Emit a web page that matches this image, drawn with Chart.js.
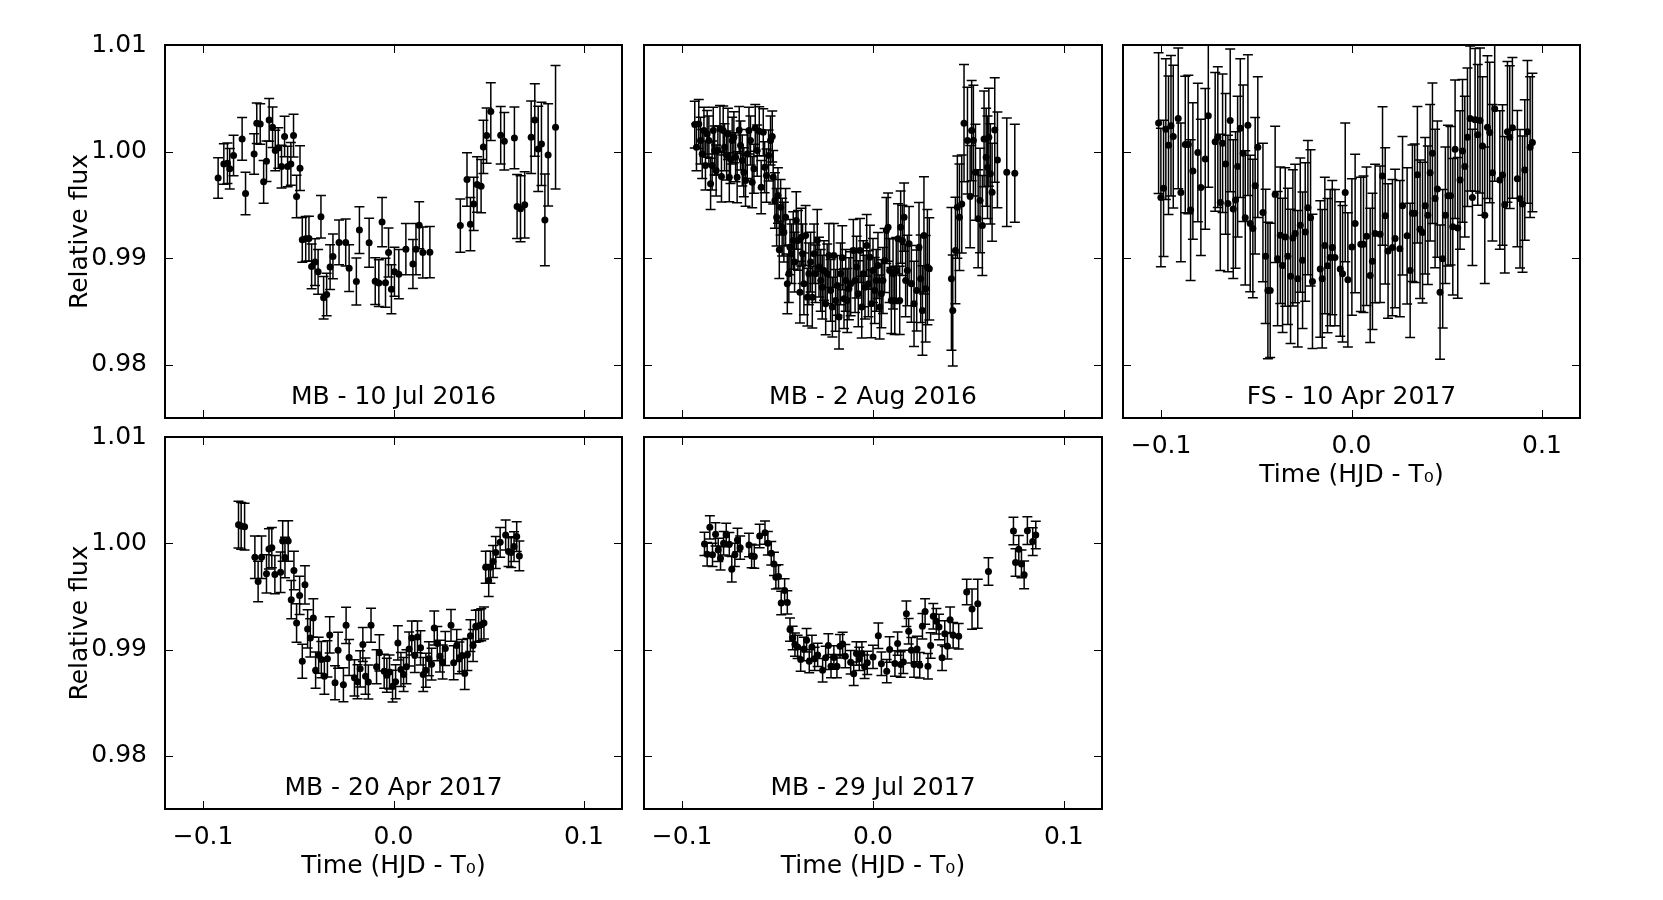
<!DOCTYPE html>
<html>
<head>
<meta charset="utf-8">
<script src="https://cdn.jsdelivr.net/npm/chart.js@4.4.1/dist/chart.umd.min.js"></script>
<style>
  html, body { margin: 0; padding: 0; background: #fff; overflow: hidden; }
  canvas { position: absolute; }
</style>
</head>
<body>
<script>
// MB - 10 Jul 2016
const jul16Time = [-0.0921,-0.0891,-0.0872,-0.0860,-0.0840,-0.0795,-0.0777,-0.0732,-0.0718,-0.0700,
  -0.0682,-0.0667,-0.0653,-0.0635,-0.0621,-0.0605,-0.0588,-0.0572,-0.0556,-0.0539,
  -0.0525,-0.0509,-0.0491,-0.0479,-0.0461,-0.0444,-0.0430,-0.0412,-0.0396,-0.0381,
  -0.0367,-0.0351,-0.0333,-0.0318,-0.0286,-0.0251,-0.0233,-0.0195,-0.0179,-0.0128,
  -0.0096,-0.0077,-0.0060,-0.0042,-0.0026,-0.0011,0.0005,0.0028,0.0065,0.0102,
  0.0118,0.0135,0.0154,0.0191,0.0351,0.0386,0.0404,0.0421,0.0439,0.0460,
  0.0472,0.0489,0.0511,0.0563,0.0582,0.0635,0.0649,0.0667,0.0689,0.0723,
  0.0742,0.0760,0.0777,0.0795,0.0812,0.0851];
const jul16Flux = [0.99753,0.99884,0.99891,0.99838,0.99963,1.00119,0.99606,0.99978,1.00266,1.00259,
  0.99716,0.99909,1.00297,1.00228,1.00009,1.00034,0.99859,1.00141,0.99859,0.99884,
  1.00150,0.99578,0.99844,0.99172,0.99181,0.99184,0.98922,0.98963,0.98872,0.99388,
  0.98628,0.98659,0.98916,0.99016,0.99147,0.99147,0.98906,0.98781,0.99263,0.99144,
  0.98784,0.98766,0.99338,0.98769,0.99053,0.98709,0.98872,0.98850,0.99084,0.98944,
  0.99084,0.99309,0.99053,0.99056,0.99306,0.99738,0.99319,0.99509,0.99691,0.99675,
  1.00044,1.00150,1.00375,1.00153,1.00097,1.00128,0.99484,0.99463,0.99500,1.00134,
  1.00297,1.00025,1.00072,0.99359,0.99969,1.00228];
const jul16Err = [0.0019,0.0019,0.0019,0.0019,0.0019,0.0020,0.0020,0.0019,0.0019,0.0019,
  0.0020,0.0019,0.0020,0.0019,0.0019,0.0019,0.0020,0.0019,0.0019,0.0020,
  0.0020,0.0020,0.0021,0.0021,0.0021,0.0021,0.0021,0.0022,0.0021,0.0020,
  0.0020,0.0020,0.0021,0.0021,0.0021,0.0022,0.0022,0.0022,0.0022,0.0023,
  0.0022,0.0022,0.0023,0.0023,0.0023,0.0023,0.0023,0.0023,0.0024,0.0023,
  0.0024,0.0022,0.0024,0.0024,0.0025,0.0025,0.0025,0.0025,0.0026,0.0025,
  0.0025,0.0026,0.0027,0.0027,0.0027,0.0029,0.0030,0.0031,0.0031,0.0034,
  0.0034,0.0040,0.0039,0.0043,0.0048,0.0058];

// MB - 2 Aug 2016
const aug16Time = [-0.0934,-0.0925,-0.0913,-0.0904,-0.0895,-0.0886,-0.0878,-0.0869,-0.0860,-0.0851,
  -0.0843,-0.0837,-0.0830,-0.0822,-0.0813,-0.0802,-0.0794,-0.0785,-0.0778,-0.0767,
  -0.0760,-0.0753,-0.0747,-0.0738,-0.0729,-0.0720,-0.0712,-0.0701,-0.0694,-0.0685,
  -0.0677,-0.0668,-0.0659,-0.0650,-0.0642,-0.0633,-0.0624,-0.0617,-0.0607,-0.0596,
  -0.0586,-0.0575,-0.0568,-0.0558,-0.0547,-0.0537,-0.0528,-0.0523,
  -0.0514,-0.0505,-0.0498,-0.0491,-0.0484,-0.0476,-0.0467,-0.0458,-0.0449,-0.0441,
  -0.0435,-0.0427,-0.0418,-0.0411,-0.0402,-0.0393,-0.0383,-0.0376,-0.0369,-0.0362,
  -0.0353,-0.0344,-0.0336,-0.0327,-0.0318,-0.0309,-0.0301,-0.0292,-0.0283,-0.0274,
  -0.0266,-0.0257,-0.0248,-0.0240,-0.0231,-0.0222,-0.0213,-0.0205,-0.0196,-0.0187,
  -0.0178,-0.0170,-0.0161,-0.0152,-0.0143,-0.0135,-0.0126,-0.0117,
  -0.0103,-0.0094,-0.0086,-0.0077,-0.0068,-0.0059,-0.0051,-0.0042,-0.0033,-0.0024,
  -0.0016,-0.0009,0.0000,0.0009,0.0017,0.0026,0.0035,0.0044,0.0052,0.0061,
  0.0070,0.0079,0.0087,0.0096,0.0105,0.0114,0.0122,0.0131,0.0140,0.0145,
  0.0154,0.0163,0.0171,0.0180,0.0189,
  0.0201,0.0215,0.0229,0.0241,0.0250,0.0259,0.0267,0.0276,0.0285,0.0295,
  0.0411,0.0418,0.0432,0.0442,0.0453,0.0465,0.0477,0.0495,0.0509,0.0517,
  0.0526,0.0537,0.0551,0.0561,0.0573,0.0582,0.0593,0.0600,0.0607,0.0615,
  0.0624,0.0638,0.0652,0.0701,0.0743];
const aug16Flux = [1.00253,1.00041,1.00259,1.00103,0.99978,1.00197,0.99869,1.00166,1.00103,0.99697,
  0.99869,1.00197,1.00009,0.99822,1.00009,1.00213,0.99766,1.00197,1.00041,0.99963,
  1.00166,0.99759,0.99931,1.00103,1.00134,0.99947,0.99759,1.00203,1.00056,0.99916,
  0.99806,0.99728,0.99978,1.00197,1.00103,0.99713,0.99838,1.00222,1.00009,1.00191,
  0.99666,1.00181,0.99853,0.99775,0.99963,1.00103,1.00141,0.99759,
  0.99541,0.99384,0.99588,0.99078,0.99478,0.99291,0.99244,0.99384,0.98759,0.98853,
  0.99103,0.99041,0.99166,0.98963,0.99353,0.99166,0.98681,0.99197,0.99041,0.98759,
  0.99213,0.98634,0.98853,0.98963,0.98634,0.99041,0.98853,0.99166,0.98916,0.98791,
  0.98728,0.98884,0.98572,0.98853,0.99025,0.98697,0.98541,0.99025,0.98603,0.98744,
  0.98447,0.98853,0.99003,0.98619,0.98791,0.98603,0.98713,0.98759,
  0.99072,0.98791,0.98916,0.98666,0.99072,0.98541,0.98853,0.98728,0.99119,0.98759,
  0.99009,0.98572,0.98884,0.98697,0.98791,0.98931,0.98541,0.98666,0.98791,0.98978,
  0.99259,0.99291,0.98884,0.98603,0.98853,0.98603,0.98884,0.99181,0.98603,0.99291,
  0.99166,0.99384,0.98791,0.98884,0.99134,
  0.98759,0.98572,0.98697,0.99103,0.98806,0.98509,0.99213,0.98713,0.98916,0.98900,
  0.98806,0.98509,0.99072,0.99478,0.99384,0.99509,1.00266,1.00103,0.99578,1.00197,
  1.00103,0.99806,0.99369,0.99541,0.99306,1.00119,0.99947,0.99853,1.00134,0.99791,
  0.99619,1.00203,0.99922,0.99806,0.99797];
const aug16Err = [0.0022,0.0022,0.0023,0.0022,0.0023,0.0022,0.0023,0.0022,0.0023,0.0024,
  0.0023,0.0022,0.0023,0.0024,0.0023,0.0022,0.0024,0.0023,0.0022,0.0023,
  0.0024,0.0023,0.0023,0.0022,0.0024,0.0023,0.0024,0.0022,0.0023,0.0024,
  0.0023,0.0024,0.0023,0.0022,0.0023,0.0024,0.0023,0.0022,0.0024,0.0023,
  0.0025,0.0022,0.0024,0.0025,0.0024,0.0023,0.0024,0.0025,
  0.0026,0.0027,0.0026,0.0027,0.0026,0.0027,0.0028,0.0027,0.0028,0.0027,
  0.0026,0.0028,0.0027,0.0028,0.0027,0.0028,0.0029,0.0027,0.0028,0.0029,
  0.0028,0.0027,0.0029,0.0028,0.0029,0.0028,0.0027,0.0029,0.0028,0.0029,
  0.0030,0.0028,0.0029,0.0028,0.0030,0.0029,0.0028,0.0030,0.0029,0.0028,
  0.0030,0.0029,0.0030,0.0028,0.0029,0.0030,0.0029,0.0030,
  0.0029,0.0030,0.0029,0.0031,0.0030,0.0029,0.0031,0.0030,0.0029,0.0031,
  0.0030,0.0032,0.0030,0.0031,0.0029,0.0031,0.0030,0.0032,0.0031,0.0030,
  0.0031,0.0032,0.0030,0.0031,0.0033,0.0032,0.0031,0.0033,0.0032,0.0034,
  0.0033,0.0032,0.0034,0.0033,0.0035,
  0.0036,0.0040,0.0038,0.0042,0.0041,0.0042,0.0055,0.0050,0.0054,0.0048,
  0.0067,0.0052,0.0050,0.0048,0.0050,0.0046,0.0055,0.0050,0.0048,0.0047,
  0.0052,0.0045,0.0046,0.0049,0.0047,0.0045,0.0046,0.0048,0.0046,0.0047,
  0.0046,0.0049,0.0045,0.0051,0.0046];

// FS - 10 Apr 2017
const apr17fsTime = [-0.1013,-0.1001,-0.0987,-0.0975,-0.0961,-0.0948,-0.0936,-0.0910,-0.0896,-0.0873,
  -0.0857,-0.0845,-0.0833,-0.0807,-0.0791,-0.0768,-0.0752,-0.0716,-0.0702,-0.0689,
  -0.0677,-0.0661,-0.0649,-0.0637,-0.0621,-0.0609,-0.0598,-0.0584,-0.0569,-0.0558,
  -0.0544,-0.0532,-0.0518,-0.0506,-0.0492,-0.0465,-0.0451,-0.0439,-0.0427,-0.0401,
  -0.0388,-0.0374,-0.0362,-0.0348,-0.0334,-0.0320,-0.0308,-0.0296,-0.0282,-0.0269,
  -0.0257,-0.0243,-0.0229,-0.0215,-0.0205,-0.0164,-0.0154,-0.0140,-0.0126,-0.0112,
  -0.0101,-0.0087,-0.0059,-0.0047,-0.0033,-0.0019,0.0002,0.0019,0.0049,0.0063,
  0.0079,0.0098,0.0110,0.0124,0.0150,0.0163,0.0177,0.0192,0.0215,0.0229,
  0.0254,0.0268,0.0292,0.0308,0.0320,0.0332,0.0346,0.0360,0.0373,0.0387,
  0.0401,0.0413,0.0425,0.0439,0.0451,0.0465,0.0479,0.0493,0.0507,0.0520,
  0.0532,0.0544,0.0558,0.0570,0.0583,0.0595,0.0609,0.0623,0.0635,0.0649,
  0.0663,0.0675,0.0688,0.0700,0.0714,0.0726,0.0740,0.0752,0.0779,0.0793,
  0.0805,0.0819,0.0831,0.0845,0.0871,0.0885,0.0898,0.0910,0.0924,0.0938,
  0.0950];
const apr17fsFlux = [1.00267,0.99570,0.99655,1.00210,1.00060,1.00242,1.00141,1.00311,0.99617,1.00066,
  1.00066,0.99451,0.99818,0.99991,0.99664,0.99931,1.00336,1.00091,1.00135,0.99523,
  1.00078,0.99884,0.99513,1.00292,0.99460,0.99545,0.99859,1.00220,0.99984,0.99378,
  1.00248,0.99325,0.99278,0.99680,1.00041,0.99429,0.99017,0.98697,0.98697,0.99598,
  0.98995,0.99215,0.98932,0.99199,0.99017,0.98829,0.99190,0.99231,0.98807,0.99309,
  0.98980,0.99246,0.99473,0.99378,0.98782,0.98898,0.98807,0.99118,0.98929,0.99005,
  0.99099,0.99005,0.98898,0.98854,0.99617,0.98797,0.99105,0.99325,0.99130,0.99130,
  0.99206,0.98838,0.98970,0.99231,0.99224,0.99771,0.99397,0.99067,0.99099,0.99184,
  0.99089,0.99491,0.99209,0.98885,0.99422,0.99422,0.99783,0.99272,0.99240,0.99491,
  0.99403,0.99802,0.99984,0.99560,0.99648,0.98681,0.98995,0.99403,0.99586,0.99586,
  0.99294,1.00022,0.99284,0.99733,1.00006,0.99859,1.00135,1.00311,0.99570,1.00298,
  1.00157,1.00292,1.00053,0.99403,1.00229,1.00179,0.99802,1.00402,0.99733,0.99780,
  0.99501,1.00185,1.00135,1.00223,0.99746,0.99557,0.99507,0.99827,1.00185,1.00041,
  1.00085];
const apr17fsErr = [0.0066,0.0065,0.0064,0.0066,0.0065,0.0066,0.0067,0.0066,0.0065,0.0064,
  0.0065,0.0066,0.0064,0.0065,0.0064,0.0066,0.0067,0.0065,0.0066,0.0064,
  0.0065,0.0066,0.0064,0.0067,0.0065,0.0064,0.0066,0.0065,0.0064,0.0063,
  0.0066,0.0064,0.0065,0.0064,0.0066,0.0065,0.0063,0.0064,0.0063,0.0064,
  0.0063,0.0064,0.0063,0.0065,0.0064,0.0063,0.0064,0.0065,0.0064,0.0063,
  0.0064,0.0065,0.0063,0.0064,0.0063,0.0064,0.0065,0.0064,0.0063,0.0064,
  0.0063,0.0064,0.0063,0.0064,0.0065,0.0063,0.0064,0.0065,0.0063,0.0064,
  0.0065,0.0063,0.0064,0.0065,0.0064,0.0065,0.0064,0.0063,0.0064,0.0065,
  0.0064,0.0065,0.0064,0.0063,0.0064,0.0065,0.0064,0.0065,0.0066,0.0064,
  0.0065,0.0064,0.0066,0.0065,0.0064,0.0063,0.0065,0.0064,0.0066,0.0065,
  0.0064,0.0065,0.0066,0.0065,0.0067,0.0066,0.0065,0.0068,0.0064,0.0067,
  0.0066,0.0068,0.0065,0.0064,0.0067,0.0066,0.0064,0.0068,0.0065,0.0066,
  0.0064,0.0066,0.0067,0.0066,0.0064,0.0065,0.0064,0.0066,0.0067,0.0066,
  0.0065];

// MB - 20 Apr 2017
const apr17Time = [-0.0814,-0.0800,-0.0782,-0.0728,-0.0711,-0.0693,-0.0667,-0.0654,-0.0639,-0.0623,
  -0.0593,-0.0582,-0.0570,-0.0553,-0.0537,-0.0523,-0.0509,-0.0493,-0.0479,-0.0465,
  -0.0451,-0.0437,-0.0421,-0.0409,-0.0393,-0.0379,-0.0363,-0.0347,-0.0335,-0.0307,
  -0.0291,-0.0263,-0.0249,-0.0233,-0.0205,-0.0189,-0.0175,-0.0161,-0.0147,-0.0132,
  -0.0118,-0.0089,-0.0074,-0.0049,-0.0035,-0.0021,-0.0005,0.0011,0.0023,0.0039,
  0.0053,0.0068,0.0082,0.0096,0.0112,0.0126,0.0142,0.0156,0.0170,0.0186,
  0.0200,0.0214,0.0230,0.0244,0.0258,0.0272,0.0302,0.0316,0.0332,0.0346,
  0.0360,0.0374,0.0388,0.0404,0.0418,0.0432,0.0447,0.0461,0.0475,0.0484,
  0.0500,0.0509,0.0523,0.0537,0.0560,0.0589,0.0604,0.0618,0.0633,0.0647,
  0.0661];
const apr17Flux = [1.00175,1.00163,1.00156,0.99869,0.99641,0.99869,0.99713,0.99947,0.99959,0.99706,
  0.99728,1.00022,0.99866,1.00022,0.99469,0.99744,0.99250,0.99509,0.98891,0.99609,
  0.99194,0.99109,0.99297,0.98806,0.98947,0.98906,0.98750,0.98913,0.99138,0.98688,
  0.98994,0.98669,0.99228,0.98925,0.98734,0.98697,0.98819,0.99047,0.98750,0.98694,
  0.99228,0.98838,0.98969,0.98797,0.98759,0.98788,0.98656,0.98697,0.99063,0.98813,
  0.98766,0.98838,0.99006,0.99109,0.98944,0.99119,0.99016,0.98766,0.98806,0.98913,
  0.98863,0.99203,0.99056,0.98938,0.98884,0.99009,0.99228,0.98875,0.99038,0.98922,
  0.98944,0.98775,0.98953,0.99131,0.99038,0.99219,0.99225,0.99234,0.99250,0.99775,
  0.99650,0.99775,0.99828,0.99913,1.00009,1.00078,0.99922,0.99913,0.99969,1.00063,
  0.99881];
const apr17Err = [0.0022,0.0022,0.0022,0.0020,0.0019,0.0020,0.0018,0.0019,0.0019,0.0018,
  0.0019,0.0019,0.0019,0.0019,0.0018,0.0018,0.0018,0.0018,0.0016,0.0018,
  0.0018,0.0018,0.0018,0.0017,0.0017,0.0017,0.0017,0.0017,0.0017,0.0016,
  0.0017,0.0016,0.0017,0.0017,0.0017,0.0016,0.0017,0.0016,0.0017,0.0016,
  0.0016,0.0016,0.0017,0.0016,0.0016,0.0016,0.0015,0.0016,0.0016,0.0016,
  0.0016,0.0016,0.0016,0.0016,0.0016,0.0015,0.0016,0.0016,0.0016,0.0016,
  0.0015,0.0016,0.0016,0.0015,0.0016,0.0016,0.0015,0.0016,0.0015,0.0015,
  0.0015,0.0015,0.0015,0.0015,0.0015,0.0015,0.0015,0.0015,0.0015,0.0015,
  0.0015,0.0015,0.0015,0.0015,0.0014,0.0014,0.0014,0.0014,0.0014,0.0014,
  0.0014];

// MB - 29 Jul 2017
const jul17Time = [-0.0883,-0.0869,-0.0855,-0.0841,-0.0825,-0.0811,-0.0799,-0.0783,-0.0769,-0.0753,
  -0.0740,-0.0724,-0.0710,-0.0696,-0.0650,-0.0636,-0.0622,-0.0594,-0.0566,-0.0551,
  -0.0533,-0.0519,-0.0509,-0.0495,-0.0481,-0.0463,-0.0449,-0.0435,-0.0421,-0.0409,
  -0.0395,-0.0379,-0.0362,-0.0348,-0.0334,-0.0320,-0.0306,-0.0290,-0.0264,-0.0248,
  -0.0234,-0.0220,-0.0205,-0.0189,-0.0173,-0.0159,-0.0145,-0.0117,-0.0101,-0.0087,
  -0.0072,-0.0058,-0.0044,-0.0030,0.0000,0.0028,0.0044,0.0072,0.0087,0.0115,
  0.0129,0.0145,0.0159,0.0175,0.0187,0.0201,0.0215,0.0231,0.0245,0.0259,
  0.0273,0.0288,0.0302,0.0316,0.0332,0.0346,0.0362,0.0376,0.0390,0.0404,
  0.0420,0.0449,0.0491,0.0519,0.0549,0.0605,0.0736,0.0747,0.0764,0.0778,
  0.0792,0.0809,0.0837,0.0853];
const jul17Flux = [0.99994,0.99897,1.00150,0.99891,1.00084,0.99938,0.99859,1.00000,1.00078,0.99991,
  0.99756,0.99891,1.00031,0.99959,0.99984,0.99881,0.99875,1.00069,1.00100,1.00000,
  0.99906,0.99806,0.99681,0.99688,0.99438,0.99556,0.99444,0.99188,0.99109,0.99047,
  0.99025,0.98906,0.99006,0.99088,0.98891,0.99025,0.98913,0.98950,0.98806,0.98922,
  0.99038,0.98844,0.98925,0.98844,0.99031,0.99053,0.98938,0.98881,0.98772,0.98963,
  0.98913,0.98963,0.98838,0.98875,0.98931,0.99131,0.98866,0.98797,0.99000,0.98869,
  0.99056,0.98859,0.98884,0.99338,0.99172,0.98994,0.98859,0.99006,0.98853,0.99219,
  0.99359,0.98844,0.99038,0.99313,0.99266,0.99213,0.98922,0.99150,0.99031,0.99281,
  0.99134,0.99125,0.99541,0.99381,0.99431,0.99734,1.00116,0.99819,0.99944,0.99806,
  0.99703,1.00119,1.00016,1.00078];
const jul17Err = [0.0011,0.0011,0.0011,0.0011,0.0011,0.0011,0.0011,0.0011,0.0011,0.0011,
  0.0012,0.0011,0.0011,0.0011,0.0011,0.0011,0.0011,0.0011,0.0011,0.0011,
  0.0011,0.0011,0.0011,0.0011,0.0011,0.0011,0.0011,0.0011,0.0011,0.0011,
  0.0011,0.0011,0.0011,0.0011,0.0011,0.0011,0.0011,0.0011,0.0011,0.0011,
  0.0011,0.0011,0.0011,0.0011,0.0011,0.0011,0.0011,0.0011,0.0011,0.0011,
  0.0011,0.0011,0.0011,0.0011,0.0011,0.0012,0.0011,0.0011,0.0012,0.0012,
  0.0011,0.0012,0.0011,0.0012,0.0012,0.0012,0.0012,0.0012,0.0012,0.0012,
  0.0012,0.0012,0.0012,0.0012,0.0012,0.0012,0.0012,0.0012,0.0012,0.0012,
  0.0012,0.0012,0.0012,0.0019,0.0023,0.0013,0.0013,0.0013,0.0013,0.0013,
  0.0013,0.0013,0.0013,0.0013];

const xTicks = [-0.1, 0.0, 0.1];
const yTicks = [0.98, 0.99, 1.00, 1.01];
const xTitle = 'Time (HJD - T\u2080)';
const yTitle = 'Relative flux';

const panels = [
  { label: 'MB - 10 Jul 2016', t: jul16Time, f: jul16Flux, e: jul16Err, col: 0, row: 0, yLabels: true, xLabels: false },
  { label: 'MB - 2 Aug 2016', t: aug16Time, f: aug16Flux, e: aug16Err, col: 1, row: 0, yLabels: false, xLabels: false },
  { label: 'FS - 10 Apr 2017', t: apr17fsTime, f: apr17fsFlux, e: apr17fsErr, col: 2, row: 0, yLabels: false, xLabels: true },
  { label: 'MB - 20 Apr 2017', t: apr17Time, f: apr17Flux, e: apr17Err, col: 0, row: 1, yLabels: true, xLabels: true },
  { label: 'MB - 29 Jul 2017', t: jul17Time, f: jul17Flux, e: jul17Err, col: 1, row: 1, yLabels: false, xLabels: true }
];

// panel geometry on the page
const colLeft = [165, 644, 1123];
const colWidth = [457, 458, 457];
const rowTop = [45, 437];
const rowHeight = [373, 372];
const padLeft = 165, padTop = 45, padRight = 20, padBottom = 90;

const FONT = '"DejaVu Sans", sans-serif';
const FONT_SIZE = 25;
Chart.defaults.font.family = FONT;
Chart.defaults.color = '#000';

const errorBars = {
  id: 'errorBars',
  beforeDatasetsDraw(chart) {
    const { ctx, chartArea: a, scales: { x, y } } = chart;
    ctx.save();
    ctx.beginPath();
    ctx.rect(a.left, a.top, a.right - a.left, a.bottom - a.top);
    ctx.clip();
    ctx.strokeStyle = '#000';
    ctx.lineWidth = 1.5;
    chart.data.datasets.forEach(ds => {
      ds.data.forEach((p, i) => {
        const px = x.getPixelForValue(p.x);
        const top = y.getPixelForValue(p.y + ds.errors[i]);
        const bot = y.getPixelForValue(p.y - ds.errors[i]);
        ctx.beginPath();
        ctx.moveTo(px, top); ctx.lineTo(px, bot);
        ctx.moveTo(px - 5, top); ctx.lineTo(px + 5, top);
        ctx.moveTo(px - 5, bot); ctx.lineTo(px + 5, bot);
        ctx.stroke();
      });
    });
    ctx.restore();
  }
};

// box, inward ticks on all four sides, panel label
const frame = {
  id: 'frame',
  afterDraw(chart, args, opts) {
    const { ctx, chartArea: a, scales: { x, y } } = chart;
    ctx.save();
    ctx.strokeStyle = '#000';
    ctx.lineWidth = 1;
    ctx.beginPath();
    x.ticks.forEach(t => {
      const px = Math.round(x.getPixelForValue(t.value)) + 0.5;
      ctx.moveTo(px, a.bottom); ctx.lineTo(px, a.bottom - 8);
      ctx.moveTo(px, a.top); ctx.lineTo(px, a.top + 8);
    });
    y.ticks.forEach(t => {
      const py = Math.round(y.getPixelForValue(t.value)) + 0.5;
      ctx.moveTo(a.left, py); ctx.lineTo(a.left + 8, py);
      ctx.moveTo(a.right, py); ctx.lineTo(a.right - 8, py);
    });
    ctx.stroke();
    ctx.lineWidth = 2;
    ctx.strokeRect(a.left, a.top, a.right - a.left, a.bottom - a.top);
    ctx.font = FONT_SIZE + 'px ' + FONT;
    ctx.fillStyle = '#000';
    ctx.textAlign = 'center';
    ctx.textBaseline = 'alphabetic';
    ctx.fillText(opts.text, (a.left + a.right) / 2, a.bottom - 14);
    ctx.restore();
  }
};

panels.forEach(p => {
  const canvas = document.createElement('canvas');
  canvas.width = padLeft + colWidth[p.col] + padRight;
  canvas.height = padTop + rowHeight[p.row] + padBottom;
  canvas.style.left = (colLeft[p.col] - padLeft) + 'px';
  canvas.style.top = (rowTop[p.row] - padTop) + 'px';
  document.body.appendChild(canvas);

  new Chart(canvas, {
    type: 'scatter',
    data: {
      datasets: [{
        data: p.t.map((t, i) => ({ x: t, y: p.f[i] })),
        errors: p.e,
        pointRadius: 3.5,
        pointHoverRadius: 3.5,
        backgroundColor: '#000',
        borderColor: '#000',
        borderWidth: 0
      }]
    },
    options: {
      responsive: false,
      animation: false,
      devicePixelRatio: 1,
      events: [],
      layout: { padding: { top: padTop, right: padRight, left: 0, bottom: 0 } },
      plugins: {
        legend: { display: false },
        tooltip: { enabled: false },
        frame: { text: p.label }
      },
      scales: {
        x: {
          type: 'linear',
          min: -0.12,
          max: 0.12,
          grid: { display: false },
          border: { display: false },
          afterBuildTicks: s => { s.ticks = xTicks.map(v => ({ value: v })); },
          afterFit: s => { s.height = padBottom; },
          ticks: {
            display: p.xLabels,
            autoSkip: false,
            maxRotation: 0,
            padding: 5,
            font: { size: FONT_SIZE },
            callback: v => (v < 0 ? '\u2212' : '') + Math.abs(v).toFixed(1)
          },
          title: {
            display: p.xLabels,
            text: xTitle,
            font: { size: FONT_SIZE },
            padding: { top: 0, bottom: 18 }
          }
        },
        y: {
          type: 'linear',
          min: 0.975,
          max: 1.01,
          grid: { display: false },
          border: { display: false },
          afterBuildTicks: s => { s.ticks = yTicks.map(v => ({ value: v })); },
          afterFit: s => { s.width = padLeft; },
          ticks: {
            display: p.yLabels,
            autoSkip: false,
            padding: 10,
            font: { size: FONT_SIZE },
            callback: v => v.toFixed(2)
          },
          title: {
            display: p.yLabels,
            text: yTitle,
            font: { size: FONT_SIZE },
            padding: { top: 65, bottom: 0 }
          }
        }
      }
    },
    plugins: [errorBars, frame]
  });
});
</script>
</body>
</html>
